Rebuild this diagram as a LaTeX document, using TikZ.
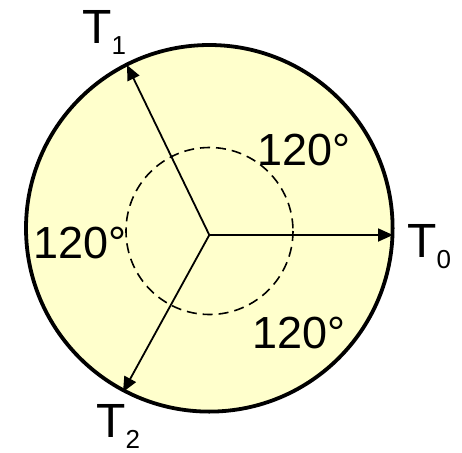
\documentclass[tikz,border=0pt]{standalone}
\usepackage{fontspec}
\setmainfont{Liberation Sans}
\usetikzlibrary{arrows.meta}
\definecolor{paleyellow}{HTML}{FFFFCC}
\tikzset{
  lbl/.style={anchor=base west, inner sep=0pt, font=\fontsize{45}{45}\selectfont},
  tlbl/.style={anchor=base west, inner sep=0pt, font=\fontsize{48}{48}\selectfont},
  vec/.style={line width=1.8pt, -{Triangle[length=15pt,width=13pt]}},
}
\newcommand{\subs}[1]{\raisebox{-11pt}{\fontsize{26}{26}\selectfont #1}}
\begin{document}
\begin{tikzpicture}[x=1pt,y=-1pt]
\useasboundingbox (0,0) rectangle (462,452);
\fill[paleyellow] (209.3,228.3) circle[radius=183.3];
\draw[line width=1.6pt, dash pattern=on 10pt off 6pt] (209.5,231) circle[radius=83.5];
\coordinate (o) at (209.3,235);
\coordinate (t0) at (393,235);
\coordinate (t1) at (127,65);
\coordinate (t2) at (123,392);
\draw[vec] (o) -- (t0);
\draw[vec] (o) -- (t1);
\draw[vec] (o) -- (t2);
\draw[line width=3.8pt] (209.3,228.3) circle[radius=183.3];
\node[tlbl] (l0) at (407,257) {T\subs{0}};
\node[tlbl] (l1) at (82,43) {T\subs{1}};
\node[tlbl] (l2) at (96,437) {T\subs{2}};
\node[lbl] (a1) at (257,165) {120°};
\node[lbl] (a2) at (33,258) {120°};
\node[lbl] (a3) at (252,348) {120°};
\end{tikzpicture}
\end{document}
